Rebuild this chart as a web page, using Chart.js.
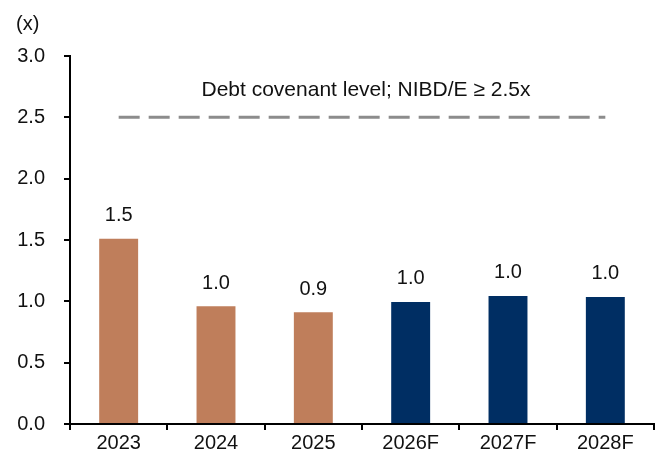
<!DOCTYPE html>
<html>
<head>
<meta charset="utf-8">
<script src="https://cdn.jsdelivr.net/npm/chart.js@4"></script>
<style>
  html, body { margin: 0; padding: 0; background: #fff; }
  #wrap { width: 660px; height: 459px; }
</style>
</head>
<body>
<div id="wrap"><canvas id="nibdChart"></canvas></div>
<script>
const years = ['2023', '2024', '2025', '2026F', '2027F', '2028F'];
const nibdE = [1.51, 0.96, 0.91, 0.995, 1.044, 1.036];
const covenant = [2.5, 2.5, 2.5, 2.5, 2.5, 2.5];
const covenantLabel = 'Debt covenant level; NIBD/E \u2265 2.5x';
const unitLabel = '(x)';
const barColors = ['#BF7E5B', '#BF7E5B', '#BF7E5B', '#002E63', '#002E63', '#002E63'];

const font = "'Liberation Sans', Arial, sans-serif";
Chart.defaults.font.family = font;
Chart.defaults.font.size = 20;
Chart.defaults.color = '#111';

// value labels above bars, the covenant caption and the unit label
const labelsPlugin = {
    id: 'labels',
    afterDatasetsDraw(chart) {
        const ctx = chart.ctx;
        ctx.save();
        ctx.font = '20px ' + font;
        ctx.fillStyle = '#111';
        ctx.textAlign = 'center';
        ctx.textBaseline = 'middle';
        chart.getDatasetMeta(0).data.forEach((bar, i) => {
            ctx.fillText(nibdE[i].toFixed(1), bar.x, bar.y - 23);
        });
        const line = chart.getDatasetMeta(1).data;
        const mid = (line[0].x + line[line.length - 1].x) / 2;
        ctx.font = '21px ' + font;
        ctx.fillText(covenantLabel, mid + 4, line[0].y - 27);
        ctx.font = '20px ' + font;
        ctx.textAlign = 'left';
        ctx.fillText(unitLabel, 16, 24);
        ctx.restore();
    }
};

const ctx = document.getElementById('nibdChart').getContext('2d');
new Chart(ctx, {
    type: 'bar',
    data: {
        labels: years,
        datasets: [{
            data: nibdE,
            backgroundColor: barColors,
            barPercentage: 0.4,
            categoryPercentage: 1,
            order: 2
        }, {
            type: 'line',
            data: covenant,
            borderColor: '#8C8C8C',
            borderWidth: 3,
            borderDash: [21, 9],
            pointRadius: 0,
            fill: false,
            order: 1
        }]
    },
    options: {
        responsive: true,
        maintainAspectRatio: false,
        animation: false,
        layout: { padding: { left: 2, right: 6, top: 56, bottom: 3 } },
        plugins: {
            legend: { display: false },
            tooltip: { enabled: false }
        },
        scales: {
            x: {
                offset: true,
                grid: {
                    offset: true,
                    drawOnChartArea: false,
                    drawTicks: true,
                    tickLength: 6,
                    tickColor: '#000',
                    lineWidth: 2
                },
                border: { display: true, color: '#000', width: 2 },
                ticks: { padding: 1, font: { size: 20 }, color: '#111' }
            },
            y: {
                min: 0,
                max: 3,
                afterFit: scale => { scale.width = 68; },
                ticks: {
                    stepSize: 0.5,
                    padding: 19,
                    font: { size: 20 },
                    color: '#111',
                    callback: v => v.toFixed(1)
                },
                grid: {
                    drawOnChartArea: false,
                    drawTicks: true,
                    tickLength: 6,
                    tickColor: '#000',
                    lineWidth: 2
                },
                border: { display: true, color: '#000', width: 2 }
            }
        }
    },
    plugins: [labelsPlugin]
});
</script>
</body>
</html>
